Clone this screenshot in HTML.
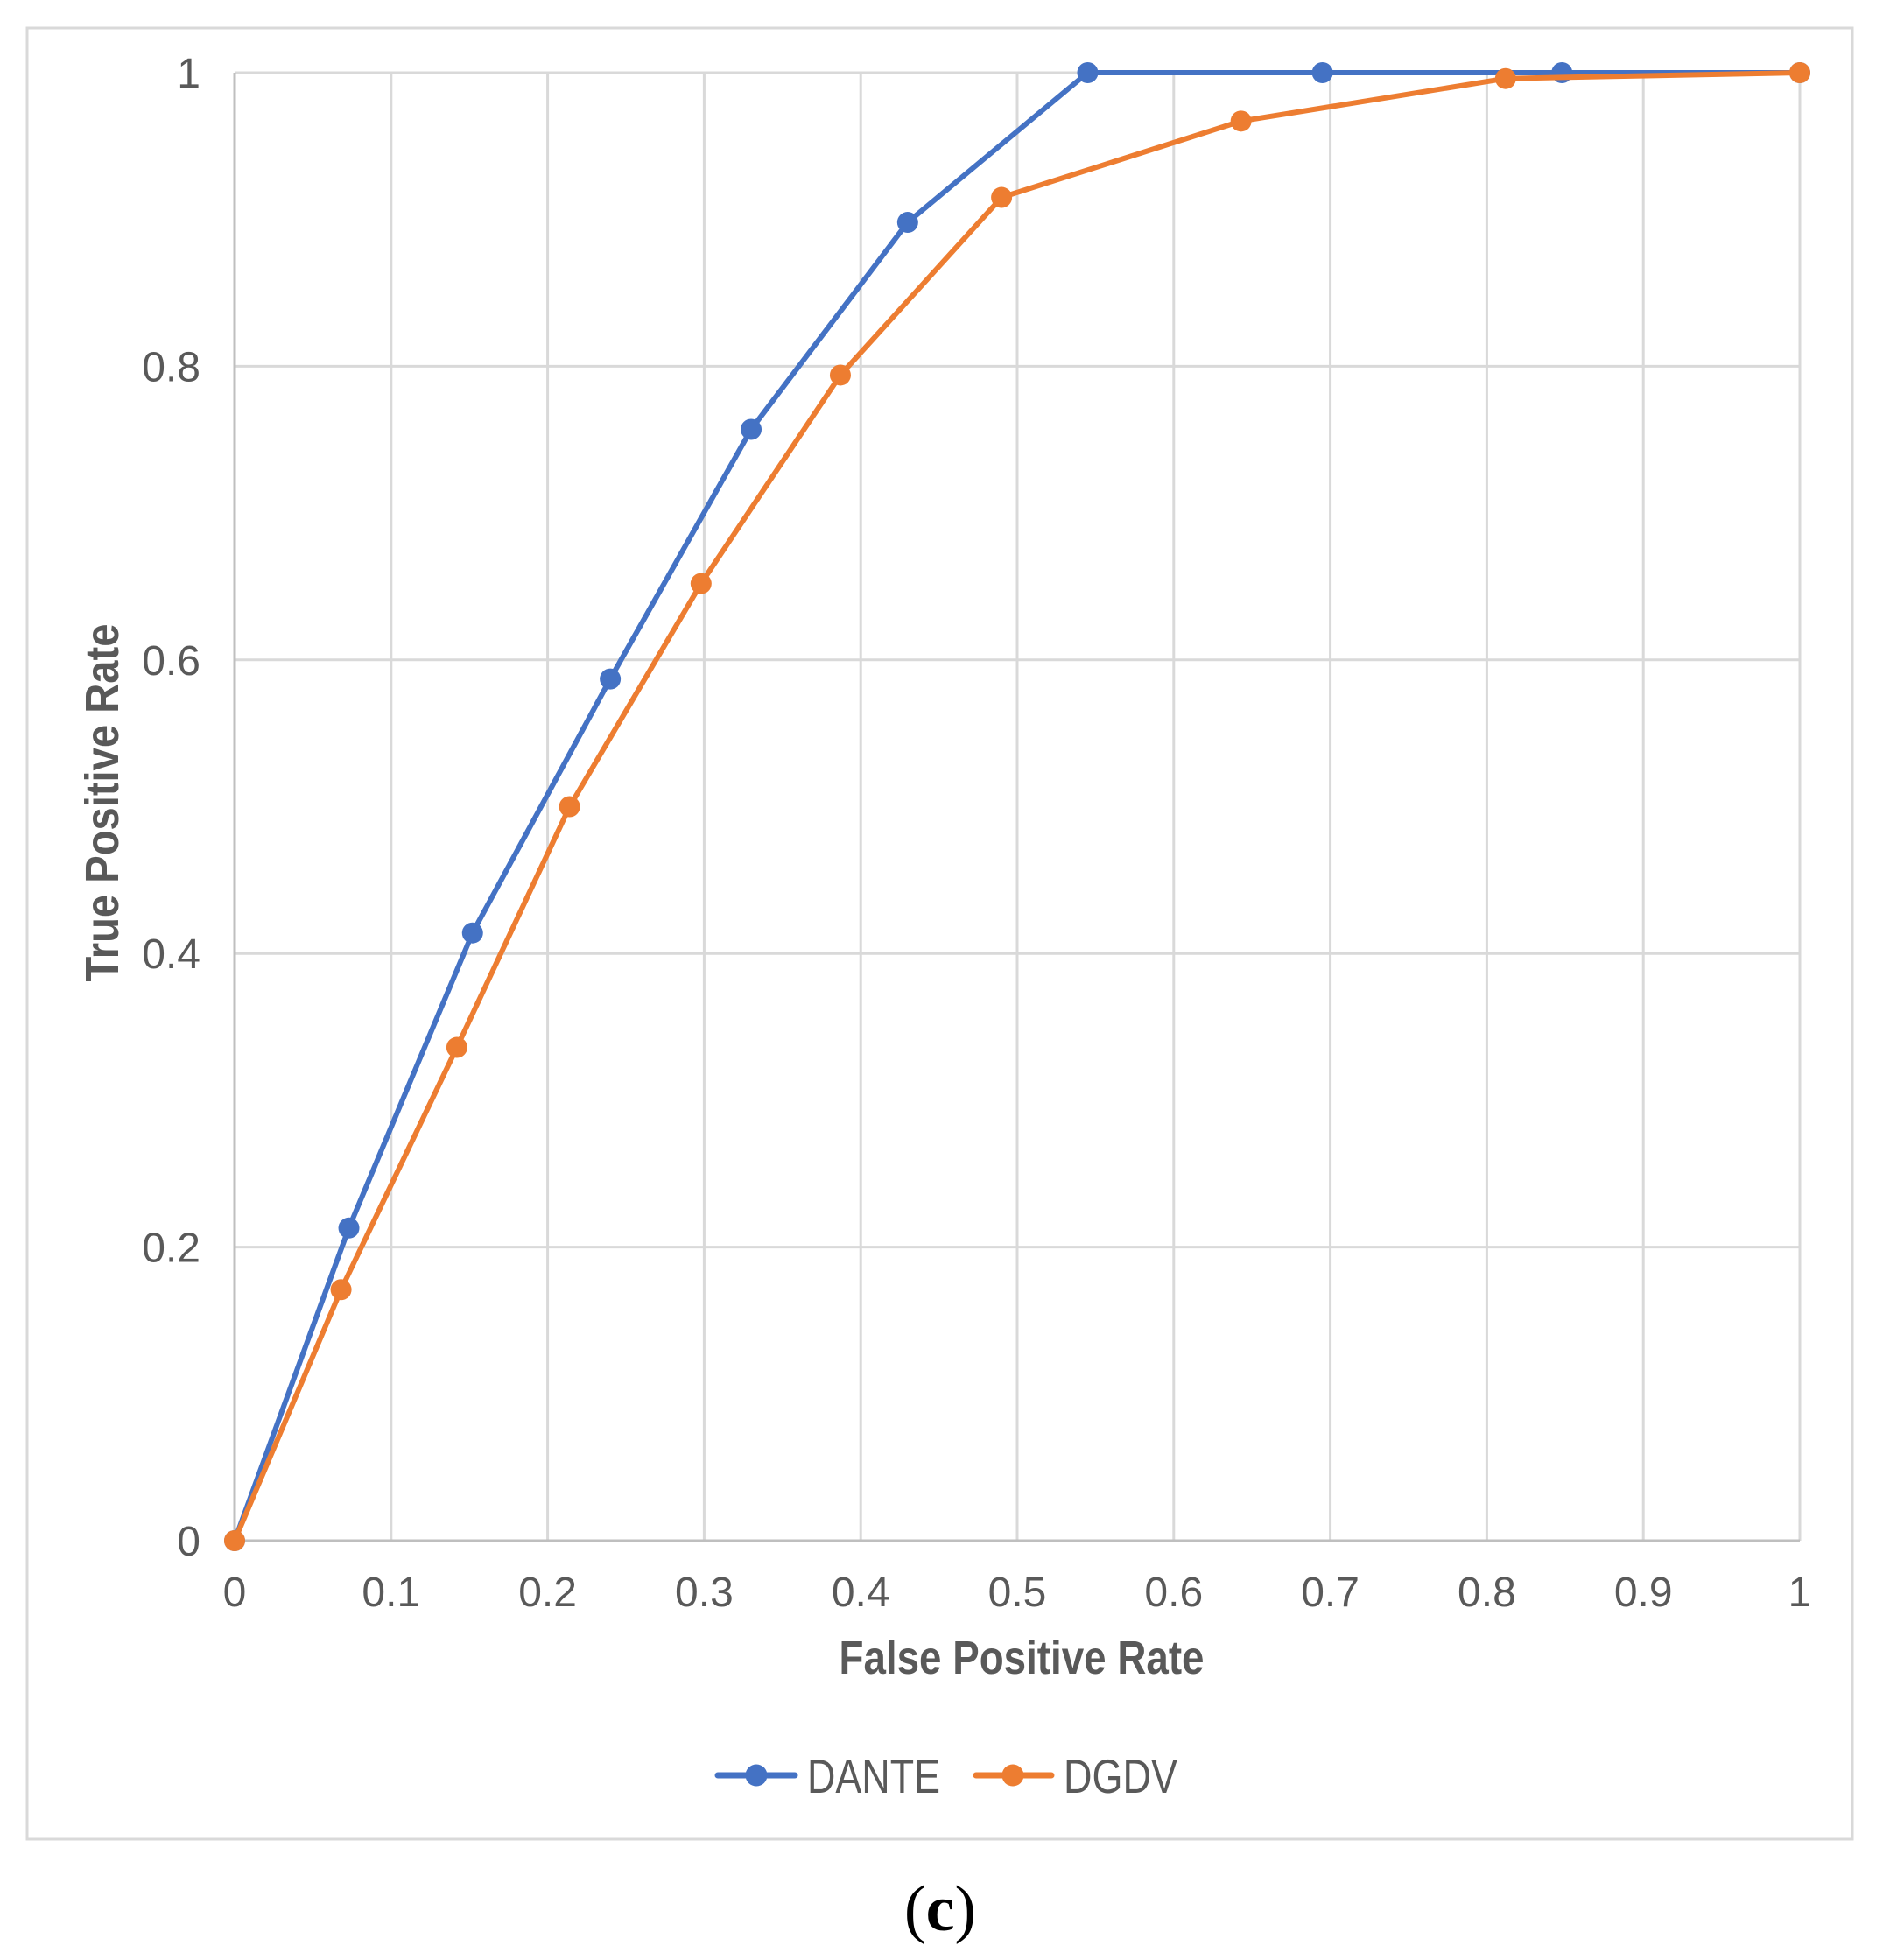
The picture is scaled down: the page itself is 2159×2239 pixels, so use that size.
<!DOCTYPE html>
<html><head><meta charset="utf-8"><style>
html,body{margin:0;padding:0;background:#fff;}
svg{display:block;}
text{font-family:"Liberation Sans","DejaVu Sans",sans-serif;fill:#595959;}
</style></head><body>
<svg id="chart" width="2159" height="2239" viewBox="0 0 2159 2239" xmlns="http://www.w3.org/2000/svg">
<rect x="31" y="32" width="2085" height="2069" fill="#fff" stroke="#d9d9d9" stroke-width="3"/>
<g id="grid"></g>
<g id="axes"></g>
<g id="series"></g>
<text x="1167" y="1912" text-anchor="middle" font-size="54" font-weight="bold" textLength="417" lengthAdjust="spacingAndGlyphs">False Positive Rate</text>
<text transform="translate(135,917) rotate(-90)" text-anchor="middle" font-size="54" font-weight="bold" textLength="409" lengthAdjust="spacingAndGlyphs">True Positive Rate</text>
<g>
  <g>
    <line x1="820" y1="2028" x2="908" y2="2028" stroke="#4472c4" stroke-width="7" stroke-linecap="round"/>
    <circle cx="864" cy="2028" r="12.5" fill="#4472c4"/>
    <text x="922" y="2048" font-size="55" textLength="152" lengthAdjust="spacingAndGlyphs">DANTE</text>
  </g>
  <g>
    <line x1="1115" y1="2028" x2="1201" y2="2028" stroke="#ed7d31" stroke-width="7" stroke-linecap="round"/>
    <circle cx="1157" cy="2028" r="12.5" fill="#ed7d31"/>
    <text x="1215" y="2048" font-size="55" textLength="130" lengthAdjust="spacingAndGlyphs">DGDV</text>
  </g>
</g>
<text x="1074" y="2205" text-anchor="middle" font-size="74" style="font-family:'Liberation Serif',serif;fill:#000">(<tspan font-weight="bold">c</tspan>)</text>
</svg>
<script>
const xTicks = [0,0.1,0.2,0.3,0.4,0.5,0.6,0.7,0.8,0.9,1];
const xTickLabels = ["0","0.1","0.2","0.3","0.4","0.5","0.6","0.7","0.8","0.9","1"];
const yTicks = [0,0.2,0.4,0.6,0.8,1];
const yTickLabels = ["0","0.2","0.4","0.6","0.8","1"];
const danteX = [0,0.073,0.152,0.24,0.33,0.43,0.545,0.695,0.848,1];
const danteY = [0,0.213,0.414,0.587,0.757,0.898,1,1,1,1];
const dgdvX = [0,0.068,0.142,0.214,0.298,0.387,0.49,0.643,0.812,1];
const dgdvY = [0,0.171,0.336,0.5,0.652,0.794,0.915,0.967,0.996,1];

const L=268,R=2056,T=83,B=1760;
function sx(v){return L+(R-L)*v;}
function sy(v){return B-(B-T)*v;}
const NS="http://www.w3.org/2000/svg";
function mk(tag,attrs,parent){const e=document.createElementNS(NS,tag);for(const k in attrs)e.setAttribute(k,attrs[k]);parent.appendChild(e);return e;}
const grid=document.getElementById('grid'),axes=document.getElementById('axes'),series=document.getElementById('series');
xTicks.forEach((t,i)=>{
  if(t>0){const g=mk('line',{x1:sx(t),x2:sx(t),y1:T,y2:B,stroke:'#d9d9d9','stroke-width':3},grid);
  
  }
  const tx=mk('text',{x:sx(t),y:1835,'text-anchor':'middle','font-size':48},axes);
  tx.textContent=xTickLabels[i];
  
  
});
yTicks.forEach((t,i)=>{
  if(t>0){const g=mk('line',{x1:L,x2:R,y1:sy(t),y2:sy(t),stroke:'#d9d9d9','stroke-width':3},grid);
  
  }
  const tx=mk('text',{x:229,y:sy(t)+17,'text-anchor':'end','font-size':48},axes);
  tx.textContent=yTickLabels[i];
  
  
});
const xa=mk('line',{x1:L,x2:R,y1:B,y2:B,stroke:'#bfbfbf','stroke-width':3},axes);


const ya=mk('line',{x1:L,x2:L,y1:T,y2:B,stroke:'#bfbfbf','stroke-width':3},axes);


function draw(xs,ys,color,name){
  const pts=xs.map((x,i)=>sx(x)+','+sy(ys[i])).join(' ');
  const pl=mk('polyline',{points:pts,fill:'none',stroke:color,'stroke-width':6,'stroke-linejoin':'round','stroke-linecap':'round'},series);
  
  
  xs.forEach((x,i)=>{
    const c=mk('circle',{cx:sx(x),cy:sy(ys[i]),r:12,fill:color},series);
    
    
  });
}
draw(danteX,danteY,'#4472c4','dante');
draw(dgdvX,dgdvY,'#ed7d31','dgdv');
</script>
</body></html>
